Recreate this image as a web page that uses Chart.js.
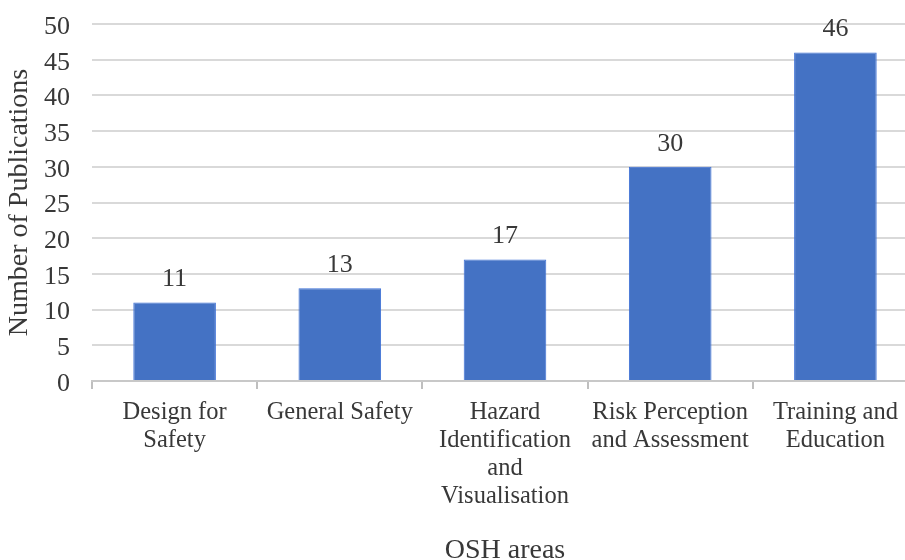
<!DOCTYPE html>
<html>
<head>
<meta charset="utf-8">
<script src="https://cdn.jsdelivr.net/npm/chart.js@4/dist/chart.umd.min.js"></script>
<style>
  html, body { margin: 0; padding: 0; background: #fff; overflow: hidden; }
  #wrap { width: 930px; height: 560px; }
</style>
</head>
<body>
<div id="wrap"><canvas id="oshChart" width="930" height="560"></canvas></div>
<script>
// data
const categories = [
    ['Design for', 'Safety'],
    'General Safety',
    ['Hazard', 'Identification', 'and', 'Visualisation'],
    ['Risk Perception', 'and Assessment'],
    ['Training and', 'Education']
];
const publications = [11, 13, 17, 30, 46];
const yTicks = [0, 5, 10, 15, 20, 25, 30, 35, 40, 45, 50];

const serif = "'Liberation Serif', 'Times New Roman', serif";
const textColor = '#383838';

// value labels above each bar
const barValues = {
    id: 'barValues',
    afterDatasetsDraw(chart) {
        const ctx = chart.ctx;
        const meta = chart.getDatasetMeta(0);
        ctx.save();
        ctx.font = '26px ' + serif;
        ctx.fillStyle = textColor;
        ctx.textAlign = 'center';
        ctx.textBaseline = 'middle';
        meta.data.forEach((bar, i) => {
            ctx.fillText(String(publications[i]), bar.x, bar.y - 23);
        });
        ctx.restore();
    }
};

document.addEventListener("DOMContentLoaded", function () {
    const ctx = document.getElementById('oshChart').getContext('2d');
    new Chart(ctx, {
        type: 'bar',
        data: {
            labels: categories,
            datasets: [{
                label: 'Number of Publications',
                data: publications,
                backgroundColor: '#4472C4',
                borderColor: '#3d70d6',
                borderWidth: 1,
                categoryPercentage: 1.0,
                barPercentage: 0.5
            }]
        },
        options: {
            responsive: false,
            animation: false,
            devicePixelRatio: 1,
            layout: { padding: { top: 24, right: 12, bottom: 0, left: 0 } },
            plugins: {
                legend: { display: false },
                tooltip: { enabled: false }
            },
            scales: {
                x: {
                    grid: {
                        display: true,
                        drawOnChartArea: false,
                        drawTicks: true,
                        tickLength: 8,
                        color: '#bfbfbf',
                        lineWidth: 2
                    },
                    border: { display: true, color: '#c8c8c8', width: 2 },
                    ticks: {
                        color: textColor,
                        font: { family: serif, size: 24.5, lineHeight: '28px' },
                        padding: 10,
                        maxRotation: 0,
                        autoSkip: false
                    },
                    title: {
                        display: true,
                        text: 'OSH areas',
                        color: textColor,
                        font: { family: serif, size: 28, lineHeight: '18px' },
                        padding: { top: 0, bottom: 0 }
                    },
                    afterFit: scale => { scale.height = 179; }
                },
                y: {
                    min: 0,
                    max: 50,
                    afterBuildTicks: scale => { scale.ticks = yTicks.map(v => ({ value: v })); },
                    grid: { color: '#d9d9d9', lineWidth: 2, drawTicks: false },
                    border: { display: false },
                    ticks: {
                        color: textColor,
                        font: { family: serif, size: 26 },
                        padding: 22,
                        labelOffset: 3
                    },
                    title: {
                        display: true,
                        text: 'Number of Publications',
                        color: textColor,
                        font: { family: serif, size: 28, lineHeight: 1.15 },
                        padding: { top: 4, bottom: 0 }
                    },
                    afterFit: scale => {
                        scale.width = 92;
                        scale.paddingTop = 0;
                        scale.paddingBottom = 0;
                    }
                }
            }
        },
        plugins: [barValues]
    });
});
</script>
</body>
</html>
